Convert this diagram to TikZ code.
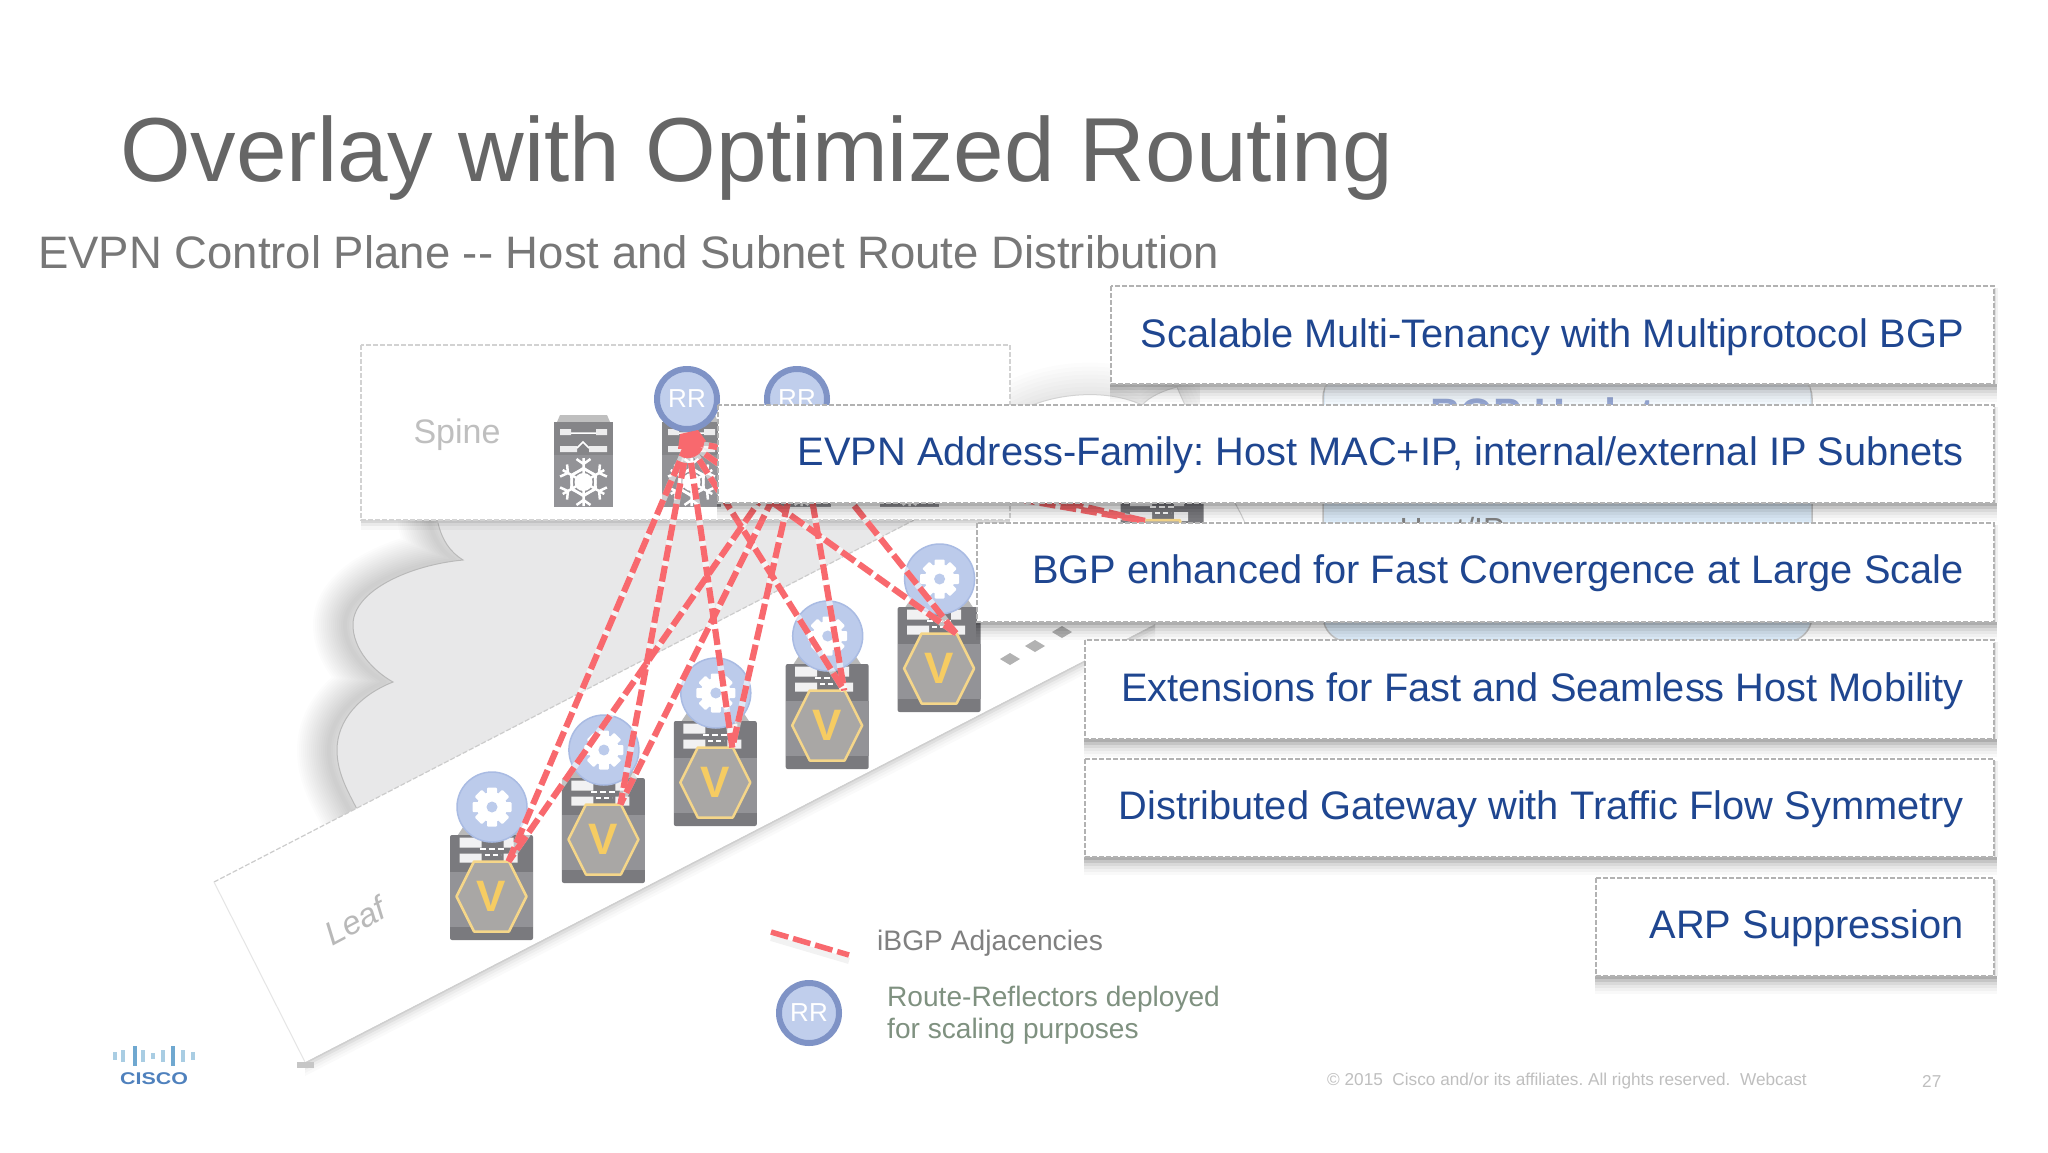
\documentclass[tikz,border=0pt]{standalone}
\usepackage{fontspec}
\setmainfont{Liberation Sans}
\usetikzlibrary{calc}
\definecolor{boxblue}{HTML}{1F4690}
\definecolor{titlegray}{HTML}{666666}
\definecolor{subgray}{HTML}{777777}
\definecolor{redline}{HTML}{F8696E}
\definecolor{rrfill}{HTML}{C0CEEC}
\definecolor{rrring}{HTML}{7F93C6}
\definecolor{gearfill}{HTML}{BCCBEB}
\definecolor{gearring}{HTML}{A9BBE3}
\definecolor{gold}{HTML}{F6CC62}
\definecolor{goldline}{HTML}{F5D689}
\definecolor{swdark}{HTML}{7A7A7E}
\definecolor{swmid}{HTML}{939397}
\definecolor{swtop}{HTML}{858588}
\definecolor{hexfill}{HTML}{A9A7A5}
\definecolor{cloudfill}{HTML}{E8E8E9}
\definecolor{paleblue}{HTML}{DCEBF8}
\definecolor{legendgreen}{HTML}{7F9180}
\tikzset{
  fs/.style={font=\fontsize{#1}{#1}\selectfont},
  callout/.style={draw=gray!60,fill=white,dash pattern=on 5pt off 2pt,line width=1.4pt},
  msg/.style={text=boxblue,anchor=east,fs=39.8,inner sep=0pt},
  ibgp/.style={redline,line width=6.2pt,dash pattern=on 16pt off 5pt},
  ibgpunder/.style={white,line width=6.2pt,opacity=.55},
  rrnode/.style={circle,draw=rrring,fill=rrfill,line width=6pt,minimum size=60pt,inner sep=0pt,text=white,fs=26},
}
\newcommand{\boxshadow}[4]{%
  \foreach \s/\o in {18/.025,15/.03,12/.04,9/.06,6/.09,3/.12}{
    \fill[black,opacity=\o] (#1-1,#4) rectangle (#3+3,#4+\s);
  }
  \foreach \s/\o in {4/.05,2/.08}{
    \fill[black,opacity=\o] (#3,#2+2) rectangle (#3+\s,#4);
  }
}
\newcommand{\leafswitch}[3]{%
  \begin{scope}[shift={(#1,#2)}]
    \fill[gray!55] (-34,-61) -- (-26,-73) -- (26,-73) -- (34,-61) -- cycle;
    \fill[swdark,rounded corners=2pt] (-41.5,-61.5) rectangle (41.5,43.5);
    \fill[swmid] (-41.5,-25) rectangle (41.5,30);
    \fill[white,opacity=.9] (-32,-59) rectangle (-10,-49) (12,-59) rectangle (22,-49);
    \fill[white,opacity=.9] (-32,-43) rectangle (-10,-34) (12,-43) rectangle (26,-34);
    \draw[white,line width=2pt,dash pattern=on 6pt off 3pt] (-12,-48) -- (14,-48);
    \draw[white,line width=2pt,dash pattern=on 5pt off 3pt] (-7,-42) -- (9,-42);
    \filldraw[draw=goldline,fill=hexfill,line width=2.5pt,line join=round]
      (-35,0) -- (-17.5,-35) -- (17.5,-35) -- (35,0) -- (17.5,35) -- (-17.5,35) -- cycle;
    \node[text=gold,inner sep=0pt,font=\fontsize{44}{44}\selectfont\bfseries] (v#3) at (0,0) {V};
  \end{scope}
}
\newcommand{\gearcircle}[3]{%
  \node[circle,draw=gearring,fill=gearfill,line width=1.5pt,minimum size=70pt,inner sep=0pt] (g#3) at (#1,#2) {};
  \begin{scope}[shift={(#1,#2)}]
    \fill[white] (0,0) circle (15);
    \foreach \a in {0,45,...,315}{
      \fill[white,rotate=\a,rounded corners=1pt] (-5,-19.5) rectangle (5,-10);
    }
    \fill[gearfill] (0,0) circle (5.5);
  \end{scope}
}
\newcommand{\spineswitch}[3]{%
  \begin{scope}[shift={(#1,#2)}]
    \fill[gray!50] (3,0) -- (6,-7) -- (53,-7) -- (56,0) -- cycle;
    \fill[swmid] (0,0) rectangle (59,85);
    \fill[swtop] (0,0) rectangle (59,33);
    \fill[white,opacity=.85] (6,7) rectangle (17,13) (42,7) rectangle (53,13);
    \fill[white,opacity=.85] (6,24) rectangle (23,30) (35,24) rectangle (53,30);
    \draw[white,line width=1.5pt] (17,11) -- (42,11) (23,26) -- (29,20) -- (35,26);
    \coordinate (c#3) at (29.5,60);
    \foreach \a in {0,60,...,300}{
      \draw[white,line width=2.5pt,rotate around={\a:(c#3)}] (c#3) -- ++(0,-24) (29.5,42) -- ++(-7,-5) (29.5,42) -- ++(7,-5) (29.5,46) -- ++(-11,7) (29.5,46) -- ++(11,7);
    }
    \fill[white] (c#3) circle (9);
  \end{scope}
}
\frenchspacing
\begin{document}
\begin{tikzpicture}[x=1pt,y=-1pt]
\useasboundingbox (0,0) rectangle (2048,1152);
\fill[white] (0,0) rectangle (2048,1152);

% cloud shadow and body
\def\cloudpath{(438,500) -- (438,523) .. controls (442,540) and (450,552) .. (463,560)
  .. controls (410,565) and (355,590) .. (353,623)
  .. controls (352,650) and (375,672) .. (393,682)
  .. controls (360,695) and (337,720) .. (337,750)
  .. controls (337,775) and (350,795) .. (360,815)
  -- (700,800) -- (1040,520) -- (1000,480) -- cycle}
\begin{scope}
  \clip (250,500) rectangle (480,900);
  \foreach \w in {64,60,...,4}{
    \draw[black,opacity=.0135,line width=\w pt,line join=round,shift={(-8,0)}] \cloudpath;
  }
\end{scope}
\fill[cloudfill] \cloudpath;
\draw[gray!55,line width=1pt] (438,523) .. controls (442,540) and (450,552) .. (463,560)
  .. controls (410,565) and (355,590) .. (353,623)
  .. controls (352,650) and (375,672) .. (393,682)
  .. controls (360,695) and (337,720) .. (337,750)
  .. controls (337,775) and (350,795) .. (360,815);

% right part of the cloud
\def\cloudright{(1000,425) .. controls (1030,395) and (1100,385) .. (1142,405)
  .. controls (1150,396) and (1165,390) .. (1177,387)
  .. controls (1187,410) and (1205,450) .. (1235,503)
  .. controls (1240,512) and (1244,520) .. (1248,530) -- (1248,640) -- (1000,640) -- cycle}
\begin{scope}
  \clip (1000,340) rectangle (1200,410);
  \foreach \w in {64,56,...,8}{
    \draw[black,opacity=.012,line width=\w pt] \cloudright;
  }
\end{scope}
\fill[white] \cloudright;
\draw[gray!35,line width=1pt] (1000,425) .. controls (1030,395) and (1100,385) .. (1142,405)
  .. controls (1150,396) and (1165,390) .. (1177,387)
  .. controls (1187,410) and (1205,450) .. (1235,503)
  .. controls (1240,512) and (1244,520) .. (1248,530);

% pale blue panel with its text
\filldraw[draw=gray!45,fill=paleblue,line width=1.5pt,rounded corners=26pt] (1323,372) rectangle (1812,642);
\fill[white,opacity=.6] (1325,384) rectangle (1810,405);
\node[anchor=base,text=rrring!85,inner sep=0pt,font=\fontsize{42.5}{42.5}\selectfont\bfseries] (bgpu) at (1566,428) {BGP Updates};
\node[anchor=base,text=gray,inner sep=0pt,fs=32] (hostip) at (1452,540) {Host/IP};

% leaf plane
\foreach \s/\o in {14/.02,11/.025,8/.03,5/.05,2/.07}{
  \fill[black,opacity=\o] (305,1062+\s) -- (1155,624+\s) -- (1155,624) -- (305,1062) -- cycle;
}
\fill[white] (214,882) -- (1064,443) -- (1155,624) -- (305,1062) -- cycle;
\draw[gray!40,line width=1.2pt,dash pattern=on 5pt off 2pt] (214,882) -- (918,518);
\draw[gray!20,line width=1pt] (214,882) -- (305,1062);
\fill[gray!45] (297,1062) rectangle (314,1068);
\node[rotate=28,text=gray!55,inner sep=0pt,font=\fontsize{33}{33}\selectfont\itshape] (leaflabel) at (355,921) {Leaf};

% continuation dots
\foreach \x/\y/\n in {1010/659/1,1035/646/2,1062/632/3}{
  \fill[gray!60] (\x-10,\y) -- (\x,\y-6) -- (\x+10,\y) -- (\x,\y+6) -- cycle;
}

% spine plane
\foreach \s/\o in {10/.03,6/.05,3/.08}{
  \fill[black,opacity=\o] (361,520) rectangle (1010,520+\s);
}
\filldraw[draw=gray!35,fill=white,line width=1.2pt,dash pattern=on 5pt off 2pt] (361,345) rectangle (1010,520);
\node[text=gray!50,inner sep=0pt,fs=34] (spinelabel) at (457,435) {Spine};

% spine switches
\spineswitch{554}{422}{1}
\spineswitch{662}{422}{2}
\spineswitch{772}{422}{3}
\spineswitch{880}{422}{4}

% leaf switches
\foreach \i in {1,...,5}{
  \pgfmathsetmacro{\lx}{491.5+111.9*(\i-1)}
  \pgfmathsetmacro{\ly}{896.5-57*(\i-1)}
  \leafswitch{\lx}{\ly}{\i}
  \coordinate (lt\i) at (\lx+17,\ly-35);
}
\leafswitch{1162}{555}{6}
\coordinate (lt6) at (1145,521);
\foreach \i in {1,...,5}{
  \pgfmathsetmacro{\lx}{492+111.9*(\i-1)}
  \pgfmathsetmacro{\ly}{807-57*(\i-1)}
  \gearcircle{\lx}{\ly}{\i}
}

% route reflectors
\node[rrnode] (rr1) at (687,399) {RR};
\node[rrnode] (rr2) at (797,399) {RR};
\coordinate (s1) at (688,442);
\coordinate (s2) at (802,440);

% iBGP adjacencies
\foreach \i in {1,...,6}{
  \draw[ibgpunder] (s1) -- (lt\i);
  \draw[ibgpunder] (s2) -- (lt\i);
}
\foreach \i in {1,...,6}{
  \draw[ibgp] (s1) -- (lt\i);
  \draw[ibgp] (s2) -- (lt\i);
}
\fill[redline] (680,434) -- (698,430) -- (706,441) -- (697,448) -- (678,449) -- cycle;

% callouts
\boxshadow{1111}{286}{1994}{384}
\filldraw[callout] (1111,286) rectangle (1994,384);
\node[msg] (m1) at (1964,337) {Scalable Multi-Tenancy with Multiprotocol BGP};
\boxshadow{718}{405}{1994}{503}
\filldraw[callout] (718,405) rectangle (1994,503);
\node[msg] (m2) at (1964,455) {EVPN Address-Family: Host MAC+IP, internal/external IP Subnets};
\boxshadow{977}{523}{1994}{622}
\filldraw[callout] (977,523) rectangle (1994,622);
\node[msg] (m3) at (1964,573) {BGP enhanced for Fast Convergence at Large Scale};
\boxshadow{1085}{640}{1994}{739}
\filldraw[callout] (1085,640) rectangle (1994,739);
\node[msg] (m4) at (1964,691) {Extensions for Fast and Seamless Host Mobility};
\boxshadow{1085}{759}{1994}{857}
\filldraw[callout] (1085,759) rectangle (1994,857);
\node[msg] (m5) at (1964,809) {Distributed Gateway with Traffic Flow Symmetry};
\boxshadow{1596}{878}{1994}{976}
\filldraw[callout] (1596,878) rectangle (1994,976);
\node[msg] (m6) at (1964,928) {ARP Suppression};

% title
\node[anchor=base west,text=titlegray,inner sep=0pt,fs=90.9] (title) at (120,181) {Overlay with Optimized Routing};
\node[anchor=base west,text=subgray,inner sep=0pt,fs=45.5] (subtitle) at (38,268) {EVPN Control Plane {-}{-} Host and Subnet Route Distribution};

% legend
\coordinate (la) at (771,932);
\coordinate (lb) at (849,955);
\draw[black,opacity=.05,line width=6pt] ($(la)+(0,6)$) -- ($(lb)+(0,6)$);
\draw[redline,line width=5.5pt,dash pattern=on 18pt off 5pt] (la) -- (lb);
\node[anchor=west,text=gray,inner sep=0pt,fs=28.2] (legend1) at (877,943) {iBGP Adjacencies};
\node[rrnode] (legendrr) at (809,1013) {RR};
\node[anchor=west,text=legendgreen,inner sep=0pt,fs=28.1] (legend2) at (887,999) {Route-Reflectors deployed};
\node[anchor=west,text=legendgreen,inner sep=0pt,fs=28.1] (legend3) at (887,1031) {for scaling purposes};

% footer
\node[anchor=west,text=gray!50,inner sep=0pt,fs=17.2] (copy) at (1327,1081) {© 2015\ \ Cisco and/or its affiliates. All rights reserved.\ \ Webcast};
\node[anchor=west,text=gray!50,inner sep=0pt,fs=17.2] (pageno) at (1922,1081) {27};

% logo
\foreach \x/\h/\c in {115/4/A9CDE3,123/6/A9CDE3,135/10/6FA8D0,143/6/A9CDE3,153/3/A9CDE3,163/6/A9CDE3,173/10/6FA8D0,183/6/A9CDE3,193/4/A9CDE3}{
  \definecolor{barc}{HTML}{\c}
  \fill[barc] (\x-1.8,1056-\h) rectangle (\x+1.8,1056+\h);
}
\node[xscale=1.26,text={rgb,255:red,79;green,129;blue,189},inner sep=0pt,font=\fontsize{17}{17}\selectfont\bfseries] (logo) at (154,1079) {CISCO};
\end{tikzpicture}
\end{document}
